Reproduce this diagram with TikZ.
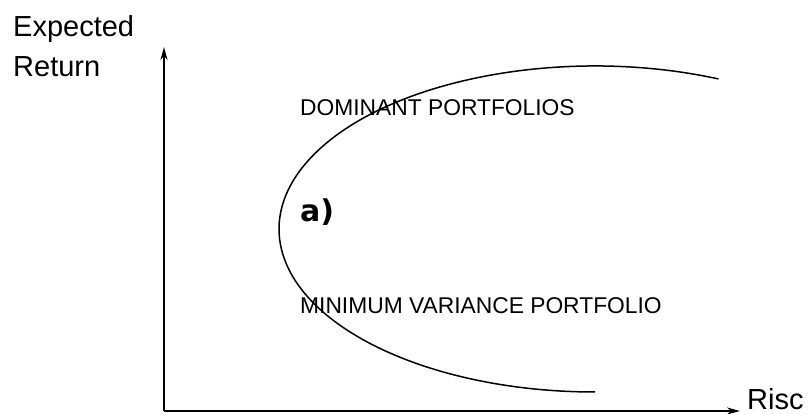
\documentclass[tikz,border=0pt]{standalone}
\usepackage{fontspec}
\setmainfont{Liberation Sans}
\newfontfamily\pointfont{DejaVu Sans}
\usepackage{tikz}
\usetikzlibrary{arrows.meta,positioning,calc}

\begin{document}
\begin{tikzpicture}[
    x=1pt, y=1pt,
    axis/.style={->, >={Stealth[length=13pt, width=7pt]}, line width=2pt, black},
    curve/.style={line width=1.5pt, black},
    axislabel/.style={inner sep=0pt, font=\fontsize{29}{31}\selectfont},
    region/.style={inner sep=0pt, anchor=west, font=\fontsize{22.8}{24}\selectfont},
    pointlabel/.style={inner sep=0pt, anchor=base west, font=\pointfont\bfseries\fontsize{30}{32}\selectfont}
]
\useasboundingbox (0,0) rectangle (808,414);

% Axes
\coordinate (origin) at (164,3);
\coordinate (ytip) at (164,367);
\coordinate (xtip) at (740,3);
\draw[axis] (origin) -- (ytip);
\draw[axis] (origin) -- (xtip);

% Axis labels
\node[axislabel, anchor=base west] (yhead) at (13,377) {Expected};
\node[axislabel, anchor=base west] (ytail) at ([yshift=-40pt]yhead.base west) {Return};
\node[axislabel, anchor=base west, font=\fontsize{29}{31}\selectfont] (xlabel) at ([xshift=7pt, yshift=1.5pt]xtip) {Risc};

% Frontier
\coordinate (centre) at (595,185);
\draw[curve] (centre) ++(67:316pt and 163pt)
    arc[start angle=67, end angle=270, x radius=316pt, y radius=163pt];

% Regions
\node[region] (dominant) at (300,306) {DOMINANT PORTFOLIOS};
\node[region] (minvar) at (300,108) {MINIMUM VARIANCE PORTFOLIO};
\node[pointlabel] (pointa) at (300,192) {a)};

\end{tikzpicture}
\end{document}
